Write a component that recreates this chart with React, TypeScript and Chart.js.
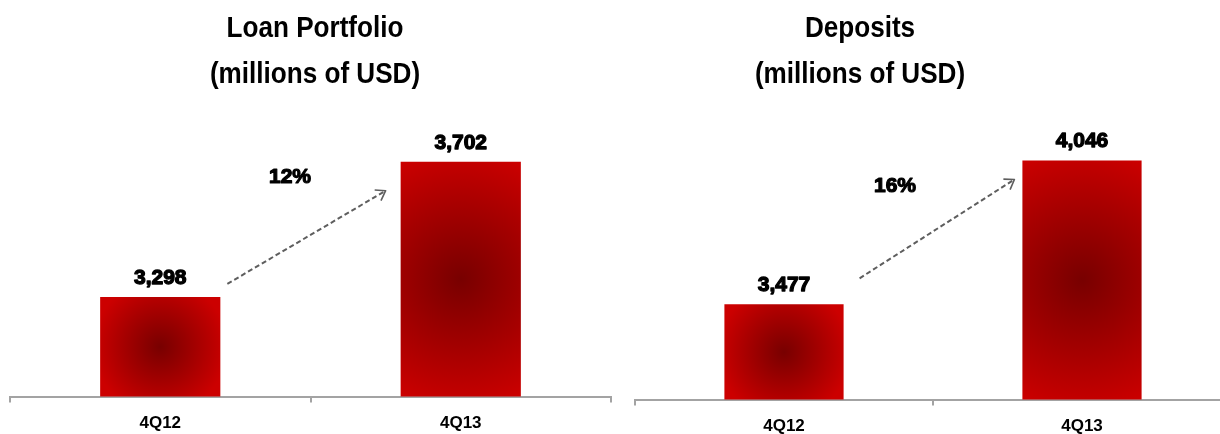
import React, { useEffect, useRef } from "react";
import { Chart, registerables } from "chart.js";

Chart.register(...registerables);

// ---------- data ----------
const categories = ["4Q12", "4Q13"];
const loanValues = [3298, 3702];
const depositValues = [3477, 4046];
const loanTitle = ["Loan Portfolio", "(millions of USD)"];
const depositTitle = ["Deposits", "(millions of USD)"];
const loanGrowth = "12%";
const depositGrowth = "16%";
const loanRange = [3000, 4000];
const depositRange = [3100, 4400];

const SANS = '"Liberation Sans", Arial, sans-serif';
const AXIS_GRAY = "#a3a3a3";
const CANVAS_H = 450;

type Panel = {
  left: number;
  width: number;
  values: number[];
  title: string[];
  growth: string;
  range: number[];
  padding: { left: number; right: number; top: number; bottom: number };
  titleX: number;
  arrow: { sx: number; sy: number; ex: number; ey: number };
  growthPos: { x: number; y: number };
};

const panels: Panel[] = [
  {
    left: 0,
    width: 620,
    values: loanValues,
    title: loanTitle,
    growth: loanGrowth,
    range: loanRange,
    padding: { left: 10, right: 9, top: 62, bottom: 5 },
    titleX: 315,
    arrow: { sx: 7, sy: -13, ex: -15, ey: 29 },
    growthPos: { x: 290, y: 177 },
  },
  {
    left: 620,
    width: 611,
    values: depositValues,
    title: depositTitle,
    growth: depositGrowth,
    range: depositRange,
    padding: { left: 15, right: 0, top: 71, bottom: 2 },
    titleX: 240,
    arrow: { sx: 16, sy: -26, ex: -8, ey: 19 },
    growthPos: { x: 275, y: 186 },
  },
];

function makeGradientColor(p: Panel) {
  return (ctx: any) => {
    const chart = ctx.chart;
    const xs = chart.scales?.x;
    const ys = chart.scales?.y;
    if (!xs || !ys || !chart.chartArea) return "#c00000";
    const i = ctx.dataIndex;
    const v = p.values[i];
    const cx = xs.getPixelForValue(i);
    const top = ys.getPixelForValue(v);
    const base = ys.getPixelForValue(p.range[0]);
    const w = (xs.width / categories.length) * 0.4;
    const h = base - top;
    const cy = (top + base) / 2;
    const r = Math.max(w, h) * 0.56;
    const g = chart.ctx.createRadialGradient(cx, cy, 0, cx, cy, r);
    g.addColorStop(0, "#780000");
    g.addColorStop(0.55, "#a60000");
    g.addColorStop(1, "#cc0000");
    return g;
  };
}

function makeAnnotPlugin(p: Panel) {
  return {
    id: "annot",
    afterDraw(chart: any) {
      const ctx = chart.ctx as CanvasRenderingContext2D;
      const bars = chart.getDatasetMeta(0).data as any[];
      ctx.save();

      // titles (condensed bold)
      ctx.fillStyle = "#000";
      ctx.textAlign = "center";
      ctx.textBaseline = "alphabetic";
      ctx.font = `bold 30px ${SANS}`;
      const sx0 = 0.87;
      ctx.save();
      ctx.scale(sx0, 1);
      ctx.fillText(p.title[0], p.titleX / sx0, 37);
      ctx.fillText(p.title[1], p.titleX / sx0, 83);
      ctx.restore();

      // value labels
      ctx.font = `bold 21px ${SANS}`;
      ctx.strokeStyle = "#000";
      ctx.lineWidth = 1.3;
      ctx.lineJoin = "round";
      bars.forEach((b, i) => {
        const s = p.values[i].toLocaleString("en-US");
        ctx.strokeText(s, b.x, b.y - 13);
        ctx.fillText(s, b.x, b.y - 13);
      });

      // growth arrow
      const b0 = bars[0];
      const b1 = bars[1];
      const sx = b0.x + b0.width / 2 + p.arrow.sx;
      const sy = b0.y + p.arrow.sy;
      const ex = b1.x - b1.width / 2 + p.arrow.ex;
      const ey = b1.y + p.arrow.ey;
      ctx.strokeStyle = "#5e5e5e";
      ctx.lineWidth = 2;
      ctx.setLineDash([5, 3]);
      ctx.beginPath();
      ctx.moveTo(sx, sy);
      ctx.lineTo(ex, ey);
      ctx.stroke();
      ctx.setLineDash([]);
      ctx.lineWidth = 1.6;
      const ang = Math.atan2(ey - sy, ex - sx);
      const L = 11;
      ctx.beginPath();
      ctx.moveTo(ex - L * Math.cos(ang - 0.6), ey - L * Math.sin(ang - 0.6));
      ctx.lineTo(ex, ey);
      ctx.lineTo(ex - L * Math.cos(ang + 0.6), ey - L * Math.sin(ang + 0.6));
      ctx.stroke();

      // growth text
      ctx.font = `bold 21px ${SANS}`;
      ctx.textBaseline = "middle";
      ctx.fillStyle = "#000";
      ctx.strokeStyle = "#000";
      ctx.lineWidth = 1.2;
      ctx.strokeText(p.growth, p.growthPos.x, p.growthPos.y);
      ctx.fillText(p.growth, p.growthPos.x, p.growthPos.y);

      ctx.restore();
    },
  };
}

function PanelChart({ p }: { p: Panel }) {
  const ref = useRef<HTMLCanvasElement | null>(null);
  useEffect(() => {
    if (!ref.current) return;
    const chart = new Chart(ref.current, {
      type: "bar",
      data: {
        labels: categories,
        datasets: [
          {
            data: p.values,
            backgroundColor: makeGradientColor(p),
            borderWidth: 0,
            barPercentage: 0.4,
            categoryPercentage: 1,
          },
        ],
      },
      options: {
        responsive: false,
        animation: false,
        devicePixelRatio: 1,
        layout: { padding: p.padding },
        plugins: {
          legend: { display: false },
          tooltip: { enabled: false },
          title: { display: false },
        },
        scales: {
          x: {
            offset: true,
            grid: {
              display: true,
              offset: true,
              drawOnChartArea: false,
              drawTicks: true,
              tickLength: 6,
              color: AXIS_GRAY,
              lineWidth: 2,
            },
            border: { display: true, color: AXIS_GRAY, width: 2 },
            ticks: {
              color: "#000",
              padding: 11,
              font: { family: SANS, size: 17, weight: "bold" },
            },
          },
          y: {
            display: false,
            min: p.range[0],
            max: p.range[1],
          },
        },
      },
      plugins: [makeAnnotPlugin(p)],
    } as any);
    return () => chart.destroy();
  }, [p]);
  return (
    <canvas
      ref={ref}
      width={p.width}
      height={CANVAS_H}
      style={{ position: "absolute", left: p.left, top: 0, width: p.width, height: CANVAS_H }}
    />
  );
}

export default function App() {
  return (
    <div
      style={{
        position: "fixed",
        left: 0,
        top: 0,
        width: 1220,
        height: 434,
        overflow: "hidden",
        background: "#fff",
      }}
    >
      {panels.map((p, i) => (
        <PanelChart key={i} p={p} />
      ))}
    </div>
  );
}
